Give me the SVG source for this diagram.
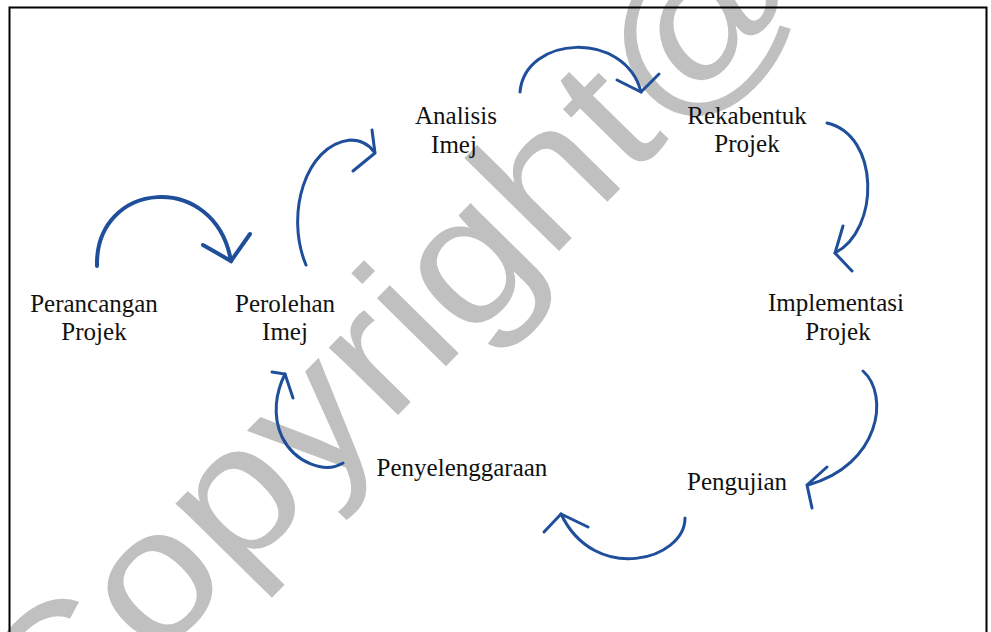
<svg xmlns="http://www.w3.org/2000/svg" width="991" height="632" viewBox="0 0 991 632">
<style>
.lbl{font-family:"Liberation Serif","Times New Roman",serif;font-size:25px;fill:#111;text-anchor:middle}
.arc{fill:none;stroke:#1f4e9b;stroke-width:3;stroke-linecap:round;stroke-linejoin:round}
.head{fill:none;stroke:#1f4e9b;stroke-width:3;stroke-linecap:round;stroke-linejoin:miter}
.wm{font-family:"Liberation Sans",Arial,sans-serif;font-size:183px;fill:#c0c0c0}
</style>
<rect x="0" y="0" width="991" height="632" fill="#fff"/>
<text class="wm" transform="translate(49.7,769.5) rotate(-45.5) scale(1.13,1)">Copyright@</text>
<rect x="9.5" y="7.5" width="977" height="660" fill="none" stroke="#000" stroke-width="2"/>
<g id="connectors">
  <path class="arc" style="stroke-width:4" d="M97,266 C95,180 215,170 231,261"/>
  <polyline class="head" style="stroke-width:4" points="203,245 231,261 250,234"/>
  <path class="arc" d="M306,265 C285,215 305,145 350,140 C362,140 370,146 374,152"/>
  <polyline class="head" points="372,130 375,153 353,171"/>
  <path class="arc" d="M520,92 C525,35 625,30 641,92"/>
  <polyline class="head" points="617,80 641,92 659,74"/>
  <path class="arc" d="M827,123 C880,135 880,230 835,253"/>
  <polyline class="head" points="843,226 835,253 852,271"/>
  <path class="arc" d="M863,371 C890,395 880,465 808,485"/>
  <polyline class="head" points="827,467 807,485 812,508"/>
  <path class="arc" d="M685,518 C685,560 595,585 561,514"/>
  <polyline class="head" points="544,532 561,514 588,527"/>
  <path class="arc" d="M343,463 C325,474 295,463 282,437 C272,415 276,392 285,374"/>
  <polyline class="head" points="272,372 285,374 293,398"/>
</g>
<g id="perancangan"><text class="lbl" x="94" y="312">Perancangan</text><text class="lbl" x="94" y="340">Projek</text></g>
<g id="perolehan"><text class="lbl" x="285" y="312">Perolehan</text><text class="lbl" x="285" y="340">Imej</text></g>
<g id="analisis"><text class="lbl" x="456" y="124">Analisis</text><text class="lbl" x="454" y="153">Imej</text></g>
<g id="rekabentuk"><text class="lbl" x="747" y="124">Rekabentuk</text><text class="lbl" x="747" y="152">Projek</text></g>
<g id="implementasi"><text class="lbl" x="836" y="311">Implementasi</text><text class="lbl" x="838" y="340">Projek</text></g>
<g id="pengujian"><text class="lbl" x="737" y="490">Pengujian</text></g>
<g id="penyelenggaraan"><text class="lbl" x="462" y="476">Penyelenggaraan</text></g>
</svg>
